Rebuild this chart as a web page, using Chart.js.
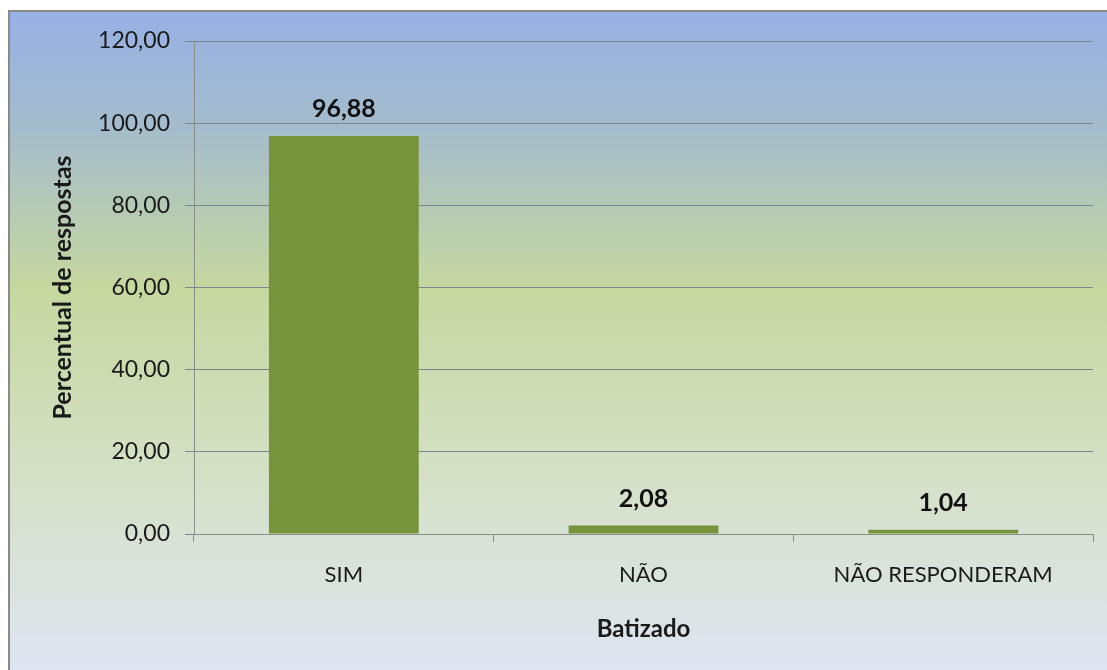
<!DOCTYPE html>
<html>
<head>
<meta charset="utf-8">
<script src="https://cdn.jsdelivr.net/npm/chart.js@4.4.1/dist/chart.umd.min.js"></script>
<style>
  html, body { margin: 0; padding: 0; background: #fff; }
  #wrap { width: 1107px; height: 670px; }
</style>
</head>
<body>
<div id="wrap"><canvas id="myChart" width="1107" height="670"></canvas></div>
<script>
const categories = ["SIM", "NÃO", "NÃO RESPONDERAM"];
const values = [96.88, 2.08, 1.04];
const yTicks = [0, 20, 40, 60, 80, 100, 120];

const fmt = (v) => v.toFixed(2).replace(".", ",");
const FONT = "Lato, 'Open Sans', sans-serif";

// background box with gradient, like the office chart area
const bgPlugin = {
  id: "bg",
  beforeDraw(chart) {
    const ctx = chart.ctx;
    const w = chart.width, h = chart.height;
    const g = ctx.createLinearGradient(0, 10, 0, h);
    g.addColorStop(0, "#97b0e4");
    g.addColorStop(0.18, "#a5bccc");
    g.addColorStop(0.42, "#c6d79f");
    g.addColorStop(0.7, "#d5e0c6");
    g.addColorStop(1, "#dfe5f1");
    ctx.save();
    ctx.fillStyle = g;
    ctx.fillRect(9, 11, w, h);
    ctx.strokeStyle = "#8a8a8a";
    ctx.lineWidth = 2;
    ctx.strokeRect(9, 11, w + 10, h + 10);
    ctx.restore();
  },
};

// value labels above bars
const labelPlugin = {
  id: "valueLabels",
  afterDatasetsDraw(chart) {
    const ctx = chart.ctx;
    const meta = chart.getDatasetMeta(0);
    ctx.save();
    ctx.font = "bold 25px " + FONT;
    ctx.fillStyle = "#111";
    ctx.textAlign = "center";
    ctx.textBaseline = "middle";
    meta.data.forEach((bar, i) => {
      ctx.fillText(fmt(values[i]), bar.x, bar.y - 27);
    });
    ctx.restore();
  },
};

const data = {
  labels: categories,
  datasets: [
    {
      data: values,
      backgroundColor: "#77933c",
      borderWidth: 0,
      categoryPercentage: 1,
      barPercentage: 0.5,
    },
  ],
};

const config = {
  type: "bar",
  data: data,
  options: {
    responsive: false,
    animation: false,
    layout: { padding: { top: 41, right: 14, left: 0, bottom: 0 } },
    plugins: { legend: { display: false }, tooltip: { enabled: false } },
    scales: {
      x: {
        afterFit: (s) => { s.height = 136; },
        grid: { offset: true, drawOnChartArea: false, color: "#8a8f8a", tickLength: 8 },
        border: { color: "#8a8f8a", width: 1 },
        ticks: { color: "#1a1a1a", font: { family: FONT, size: 22 }, padding: 20 },
        title: {
          display: true,
          text: "Batizado",
          color: "#1a1a1a",
          font: { family: FONT, size: 24, weight: "bold" },
          padding: { top: 0, bottom: 26 },
        },
      },
      y: {
        min: 0,
        max: 120,
        afterFit: (s) => { s.width = 194; },
        afterBuildTicks: (s) => { s.ticks = yTicks.map((v) => ({ value: v })); },
        grid: { color: "#7a8590", tickLength: 9 },
        border: { color: "#8a8f8a", width: 1 },
        ticks: {
          color: "#1a1a1a",
          font: { family: FONT, size: 23 },
          padding: 15,
          callback: (v) => fmt(v),
        },
        title: {
          display: true,
          text: "Percentual de respostas",
          color: "#1a1a1a",
          font: { family: FONT, size: 25, weight: "bold" },
          padding: { top: 48 },
        },
      },
    },
  },
  plugins: [bgPlugin, labelPlugin],
};

const myChart = new Chart(document.getElementById("myChart"), config);
</script>
</body>
</html>
